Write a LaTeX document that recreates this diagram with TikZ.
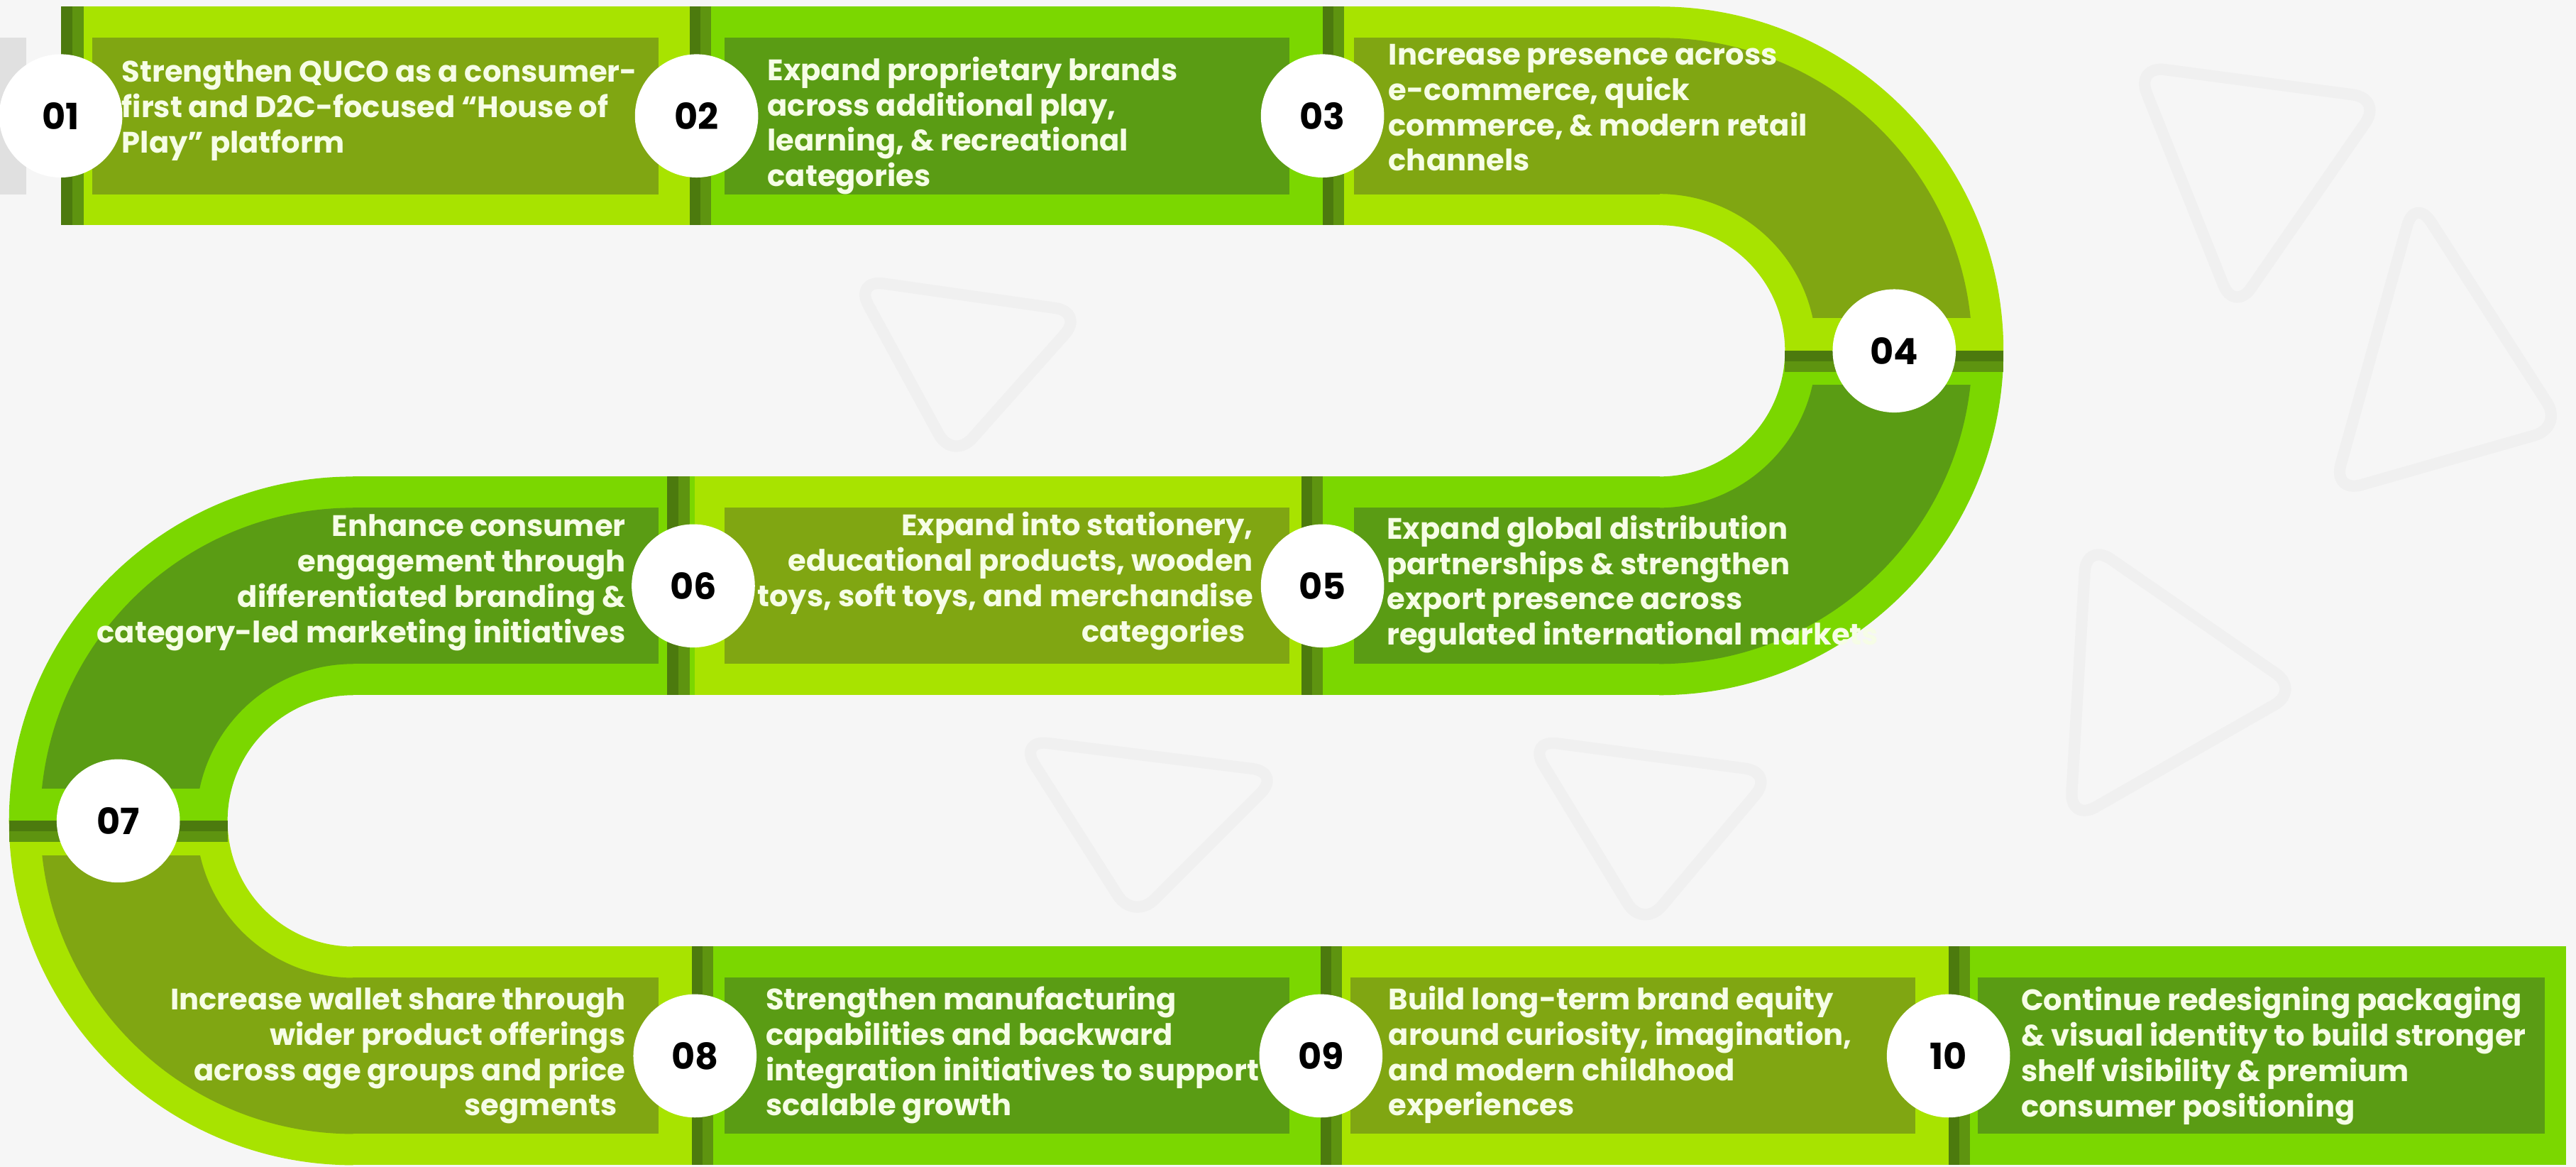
\documentclass[tikz,border=0pt]{standalone}
\usepackage{fontspec}
\setmainfont{Poppins}
\definecolor{yg}{HTML}{A8E300}
\definecolor{bgr}{HTML}{7BD700}
\definecolor{olv}{HTML}{80A612}
\definecolor{dgr}{HTML}{5A9C14}
\definecolor{dvone}{HTML}{4C7A0E}
\definecolor{dvtwo}{HTML}{5E9410}
\definecolor{bkg}{HTML}{F6F6F6}
\definecolor{wmk}{HTML}{F0F0F0}
\definecolor{txtc}{HTML}{F6FDE6}
\definecolor{gryb}{HTML}{E0E0E0}
\begin{document}
\begin{tikzpicture}[x=1pt,y=-1pt,
  txtl/.style={inner sep=0, text=txtc, anchor=base west, align=left, font=\bfseries\fontsize{18}{21.5}\selectfont},
  txtr/.style={inner sep=0, text=txtc, anchor=base east, align=right, font=\bfseries\fontsize{18}{21.5}\selectfont},
  numc/.style={circle, fill=white, minimum size=75pt, inner sep=0, text=black, font=\bfseries\fontsize{22}{22}\selectfont},
  wm/.style={draw=wmk, line width=7pt, rounded corners=18pt, line join=round}]
\fill[bkg] (0,0) rectangle (1568,710);
\useasboundingbox (0,0) rectangle (1568,710);
% faint watermark shapes
\draw[wm] (1300,40) -- (1450,60) -- (1360,190) -- cycle;
\draw[wm] (1470,120) -- (1560,260) -- (1420,300) -- cycle;
\draw[wm] (1270,330) -- (1400,420) -- (1260,500) -- cycle;
\draw[wm] (520,170) -- (660,190) -- (580,280) -- cycle;
\draw[wm] (620,450) -- (780,470) -- (690,560) -- cycle;
\draw[wm] (930,450) -- (1080,470) -- (1000,565) -- cycle;
% gray box at the far left
\fill[gryb] (0,23) rectangle (16,118.5);
% ---------- outer band ----------
\fill[yg] (37,4) rectangle (424,137);
\fill[bgr] (423.5,4) rectangle (805.5,137);
\fill[yg] (805,4) rectangle (1010.5,137);
\begin{scope}
  \clip (1010,-5) rectangle (1230,213.6);
  \fill[yg, even odd rule] (1010,213.5) circle[radius=209.5] (1010,213.5) circle[radius=76.5];
\end{scope}
\begin{scope}
  \clip (1010,213.5) rectangle (1230,430);
  \fill[bgr, even odd rule] (1010,213.5) circle[radius=209.5] (1010,213.5) circle[radius=76.5];
\end{scope}
\fill[bgr] (804.5,290) rectangle (1010.5,423);
\fill[yg] (422.5,290) rectangle (805,423);
\fill[bgr] (214.5,290) rectangle (423,423);
\begin{scope}
  \clip (-5,280) rectangle (215,499.6);
  \fill[bgr, even odd rule] (215,499.5) circle[radius=209.5] (215,499.5) circle[radius=76.5];
\end{scope}
\begin{scope}
  \clip (-5,499.5) rectangle (215,720);
  \fill[yg, even odd rule] (215,499.5) circle[radius=209.5] (215,499.5) circle[radius=76.5];
\end{scope}
\fill[yg] (214.5,576) rectangle (423.5,709);
\fill[bgr] (423,576) rectangle (805.5,709);
\fill[yg] (805,576) rectangle (1186.5,709);
\fill[bgr] (1186,576) rectangle (1562,709);
% ---------- inner boxes ----------
\fill[olv] (56,23) rectangle (401,118.5);
\fill[dgr] (441,23) rectangle (785,118.5);
\fill[olv] (824,23) rectangle (1010.5,118.5);
\begin{scope}
  \clip (1010,-5) rectangle (1230,193.5);
  \fill[olv, even odd rule] (1010,213.5) circle[radius=190.5] (1010,213.5) circle[radius=95.5];
\end{scope}
\begin{scope}
  \clip (1010,234.5) rectangle (1230,430);
  \fill[dgr, even odd rule] (1010,213.5) circle[radius=190.5] (1010,213.5) circle[radius=95.5];
\end{scope}
\fill[dgr] (824,309) rectangle (1010.5,404);
\fill[olv] (441,309) rectangle (785,404);
\fill[dgr] (214.5,309) rectangle (401,404);
\begin{scope}
  \clip (-5,280) rectangle (215,479.5);
  \fill[dgr, even odd rule] (215,499.5) circle[radius=190.5] (215,499.5) circle[radius=95.5];
\end{scope}
\begin{scope}
  \clip (-5,520.5) rectangle (215,720);
  \fill[olv, even odd rule] (215,499.5) circle[radius=190.5] (215,499.5) circle[radius=95.5];
\end{scope}
\fill[olv] (214.5,595) rectangle (401,690);
\fill[dgr] (441,595) rectangle (785,690);
\fill[olv] (822,595) rectangle (1166,690);
\fill[dgr] (1204,595) rectangle (1549,690);
% ---------- dividers ----------
\fill[dvone] (37,4) rectangle (44,137);      \fill[dvtwo] (44,4) rectangle (51,137);
\fill[dvone] (420,4) rectangle (426.5,137);  \fill[dvtwo] (426.5,4) rectangle (433,137);
\fill[dvone] (805,4) rectangle (811.5,137);  \fill[dvtwo] (811.5,4) rectangle (818,137);
\fill[dvone] (1086.5,213.5) rectangle (1219.5,220); \fill[dvtwo] (1086.5,220) rectangle (1219.3,226.5);
\fill[dvone] (792,290) rectangle (798.5,423); \fill[dvtwo] (798.5,290) rectangle (805,423);
\fill[dvone] (406,290) rectangle (413,423);   \fill[dvtwo] (413,290) rectangle (420,423);
\fill[dvone] (5.5,499.5) rectangle (138.5,506); \fill[dvtwo] (5.7,506) rectangle (138.5,512.5);
\fill[dvone] (421,576) rectangle (427.5,709); \fill[dvtwo] (427.5,576) rectangle (434,709);
\fill[dvone] (804,576) rectangle (810.5,709); \fill[dvtwo] (810.5,576) rectangle (817,709);
\fill[dvone] (1186,576) rectangle (1192.5,709); \fill[dvtwo] (1192.5,576) rectangle (1199,709);
% ---------- texts (anchor = baseline of last line) ----------
\node[txtl] (t01) at (74,93) {Strengthen QUCO as a consumer-\\first and D2C-focused “House of\\Play” platform};
\node[txtl] (t02) at (467,113.5) {Expand proprietary brands\\across additional play,\\learning, \& recreational\\categories};
\node[txtl] (t03) at (845,104) {Increase presence across\\e-commerce, quick\\commerce, \& modern retail\\channels};
\node[txtl] (t05) at (844,392.5) {Expand global distribution\\partnerships \& strengthen\\export presence across\\regulated international markets};
\node[txtr] (t06) at (763,390.5) {Expand into stationery,\\educational products, wooden\\toys, soft toys, and merchandise\\categories\hspace*{5pt}};
\node[txtr] (t07) at (381,391) {Enhance consumer\\engagement through\\differentiated branding \&\hspace*{4pt}\\category-led marketing initiatives};
\node[txtr] (t08) at (381,679) {Increase wallet share through\\wider product offerings\\across age groups and price\\segments\hspace*{5pt}};
\node[txtl] (t09) at (466,679) {Strengthen manufacturing\\capabilities and backward\\integration initiatives to support\\scalable growth};
\node[txtl] (t10) at (845,679) {Build long-term brand equity\\around curiosity, imagination,\\and modern childhood\\experiences};
\node[txtl] (t11) at (1230,679.5) {Continue redesigning packaging\\\& visual identity to build stronger\\shelf visibility \& premium\\consumer positioning};
% ---------- number circles ----------
\node[numc] (n01) at (37,70.5) {01};
\node[numc] (n02) at (424,70.5) {02};
\node[numc] (n03) at (805,70.5) {03};
\node[numc] (n04) at (1153,213.5) {04};
\node[numc] (n05) at (805,356.5) {05};
\node[numc] (n06) at (422,356.5) {06};
\node[numc] (n07) at (72,499.5) {07};
\node[numc] (n08) at (423,642.5) {08};
\node[numc] (n09) at (804,642.5) {09};
\node[numc] (n10) at (1186,642.5) {10};
\end{tikzpicture}
\end{document}
